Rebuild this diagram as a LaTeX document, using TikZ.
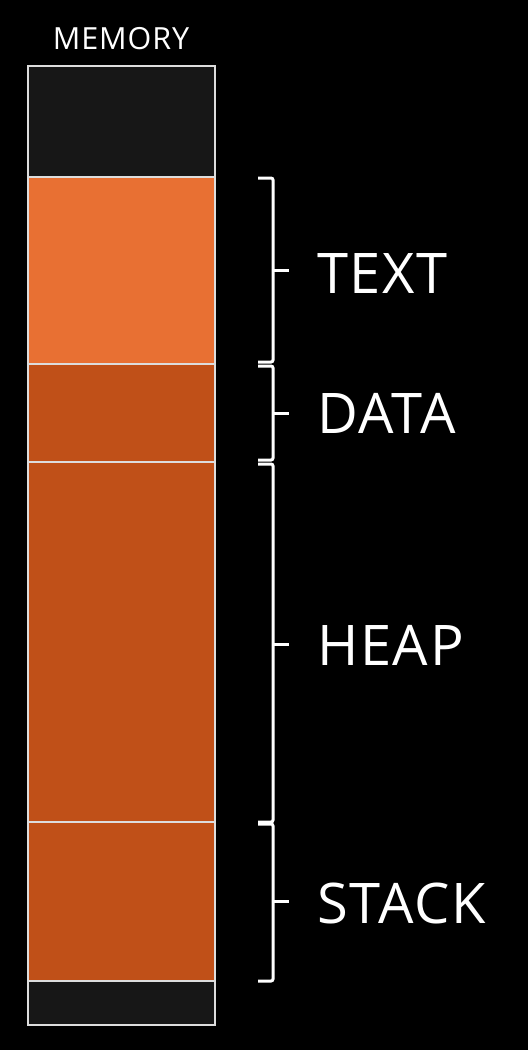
\documentclass[tikz,border=0pt]{standalone}
\usepackage{fontspec}
\setmainfont{Open Sans}[LetterSpace=3]
\definecolor{blk}{HTML}{171717}
\definecolor{lite}{HTML}{E87033}
\definecolor{dark}{HTML}{C05018}
\definecolor{edge}{HTML}{DDDDDD}
\begin{document}
\begin{tikzpicture}[x=1pt,y=-1pt,
  seg/.style={draw=edge, line width=2.2pt},
  brk/.style={draw=white, line width=3pt, rounded corners=2pt},
  lbl/.style={text=white, font=\fontsize{56}{60}\selectfont, anchor=base west, inner sep=0pt},
  ttl/.style={text=white, font=\fontsize{30.5}{34}\selectfont, anchor=base, inner sep=0pt}]
\fill[black] (0,0) rectangle (528,1050);
\useasboundingbox (0,0) rectangle (528,1050);
% memory segments
\coordinate (s0) at (28,66);
\coordinate (s1) at (215,177);
\coordinate (s2) at (28,177);
\coordinate (s3) at (215,364);
\coordinate (s4) at (28,364);
\coordinate (s5) at (215,462);
\coordinate (s6) at (28,462);
\coordinate (s7) at (215,822);
\coordinate (s8) at (28,822);
\coordinate (s9) at (215,981);
\coordinate (s10) at (28,981);
\coordinate (s11) at (215,1025);
\fill[blk] (s0) rectangle (s1);
\fill[lite] (s2) rectangle (s3);
\fill[dark] (s4) rectangle (s5);
\fill[dark] (s6) rectangle (s7);
\fill[dark] (s8) rectangle (s9);
\fill[blk] (s10) rectangle (s11);
\draw[seg] (s2) -- (s1);
\draw[seg] (s4) -- (s3);
\draw[seg] (s6) -- (s5);
\draw[seg] (s8) -- (s7);
\draw[seg] (s10) -- (s9);
\draw[seg] (s0) rectangle (s11);
\node[ttl] (mem) at (121,49) {MEMORY};
% braces
\draw[brk] (258,178) -- (273,178) -- (273,362) -- (258,362);
\draw[brk] (273,270) -- (289,270);
\draw[brk] (258,366) -- (273,366) -- (273,460) -- (258,460);
\draw[brk] (273,413) -- (289,413);
\draw[brk] (258,464) -- (273,464) -- (273,822) -- (258,822);
\draw[brk] (273,644) -- (289,644);
\draw[brk] (258,824) -- (273,824) -- (273,981) -- (258,981);
\draw[brk] (273,901) -- (289,901);
% labels
\node[lbl] (text) at (317,293) {TEXT};
\node[lbl] (data) at (317,433) {DATA};
\node[lbl] (heap) at (317,665) {HEAP};
\node[lbl] (stack) at (317,923) {STACK};
\end{tikzpicture}
\end{document}
